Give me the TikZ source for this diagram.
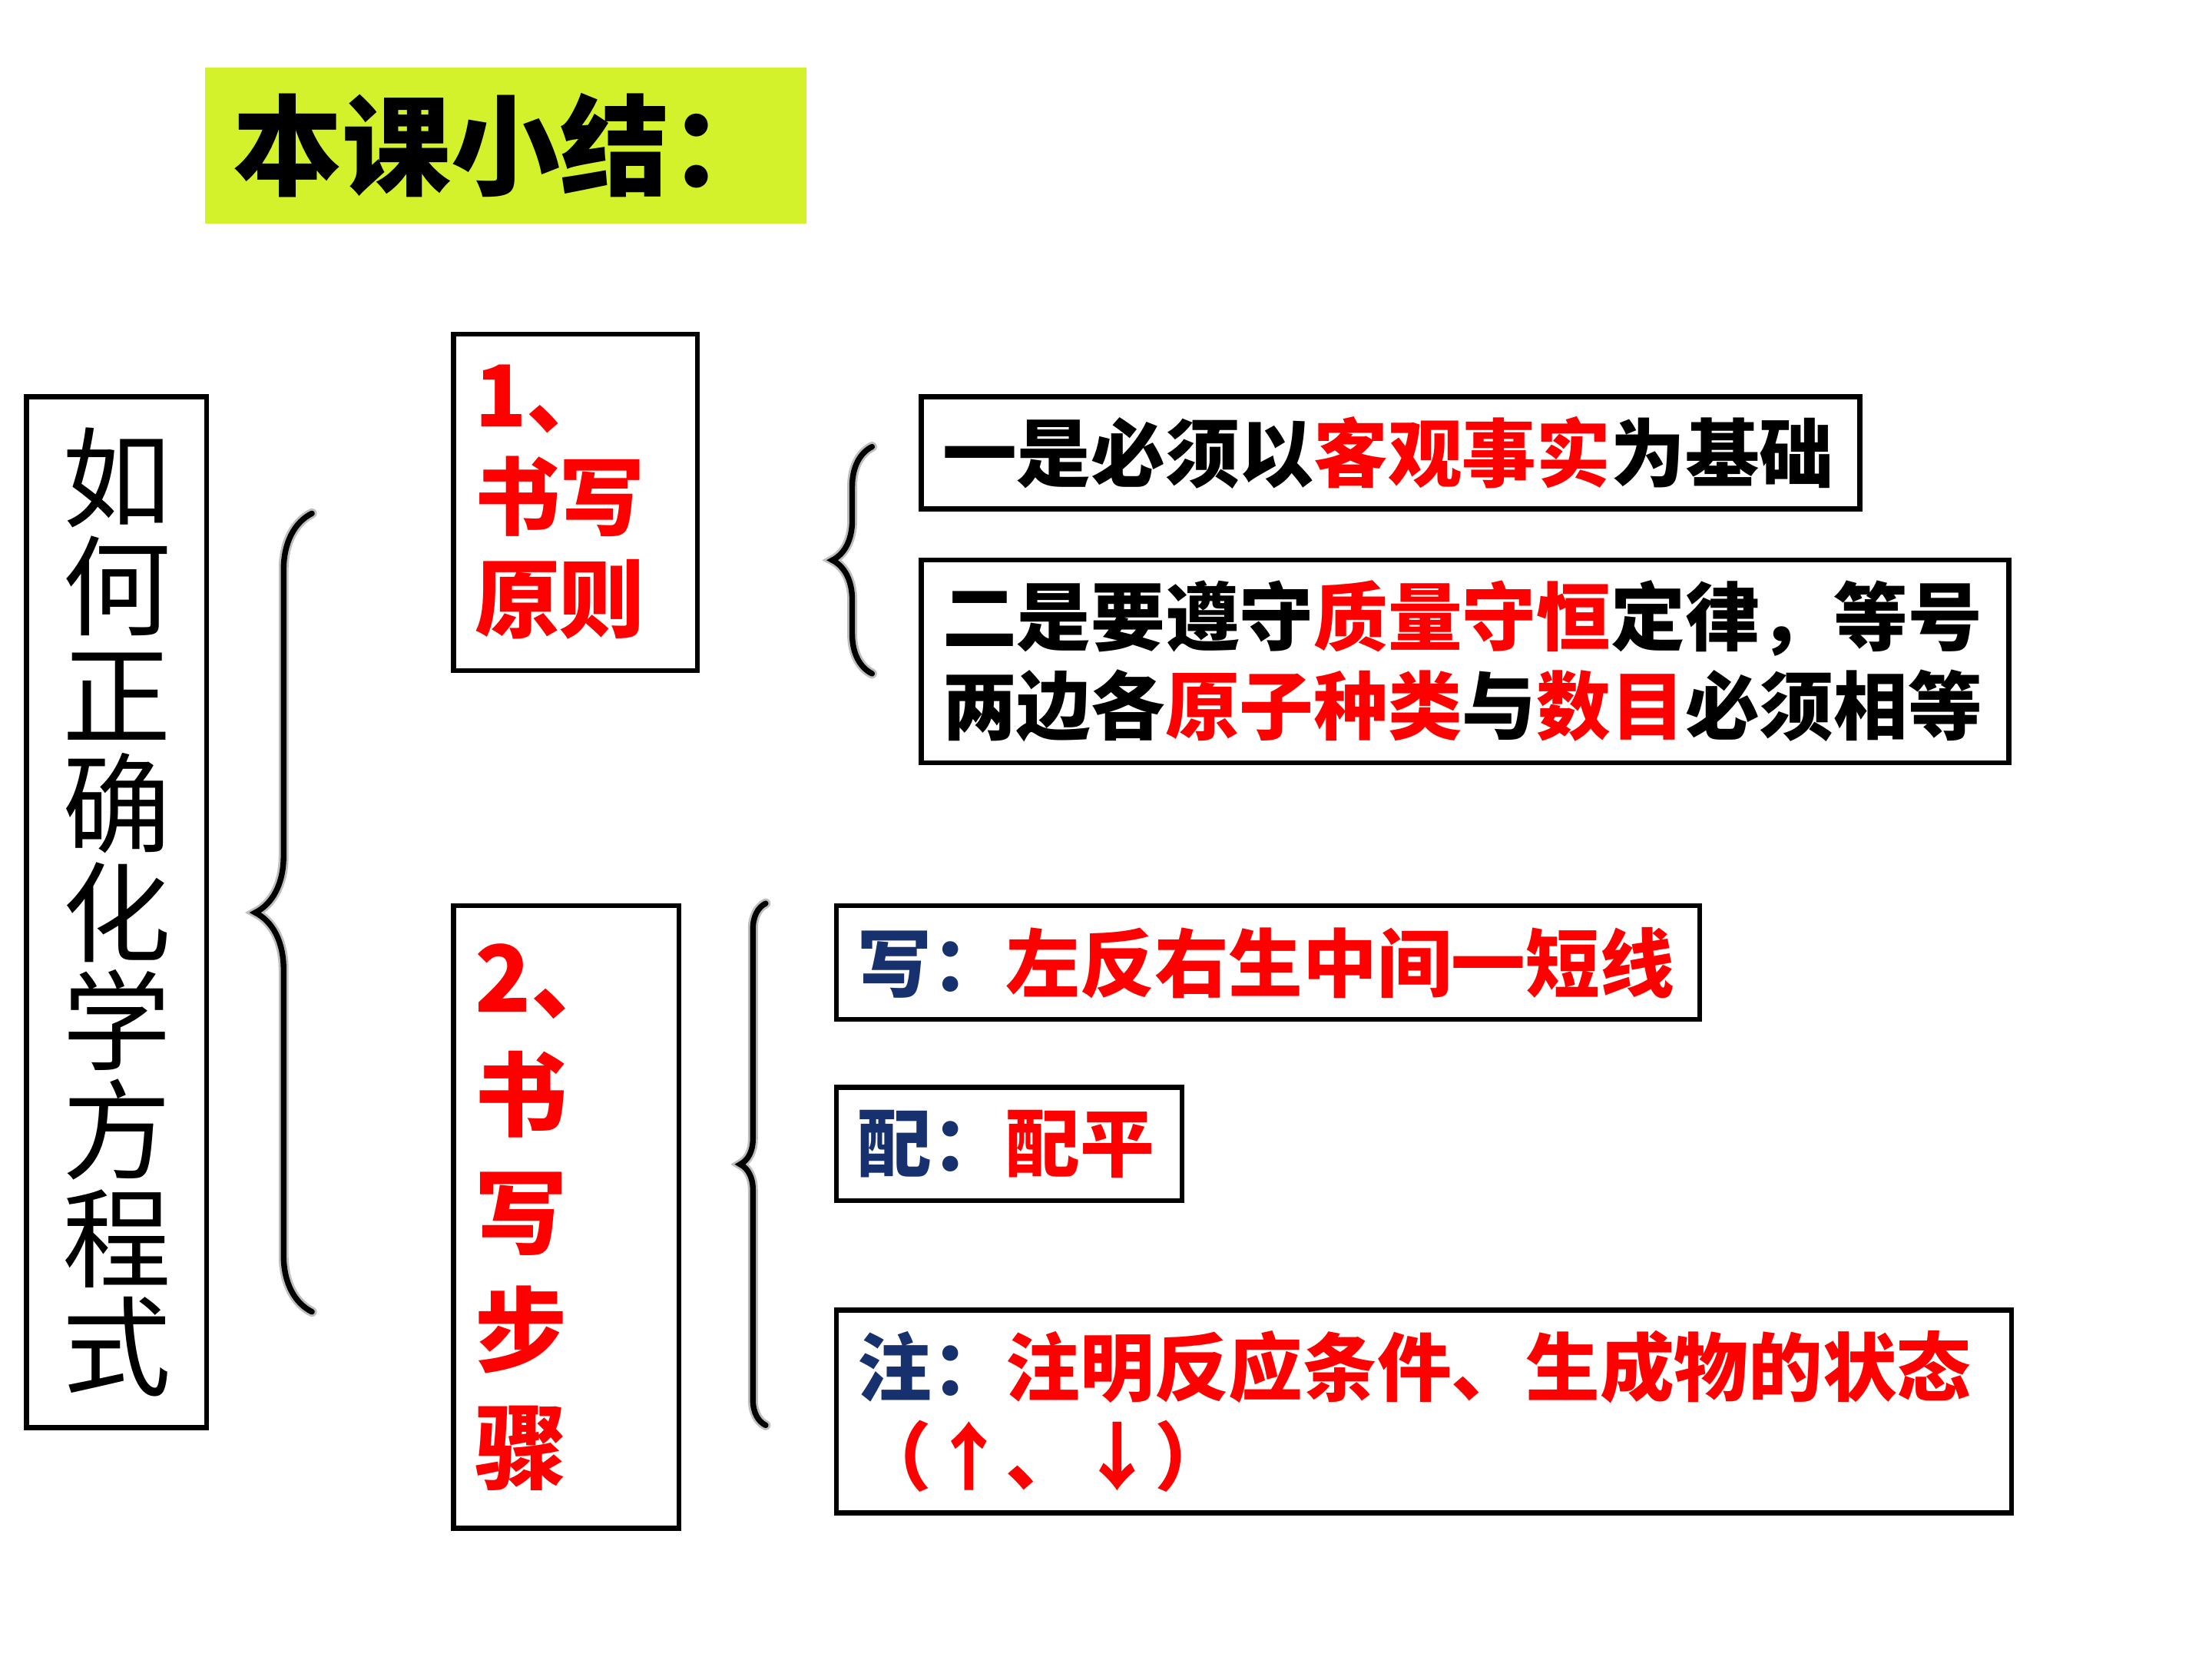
\documentclass[tikz,border=0pt]{standalone}
\usepackage{fontspec}
\setmainfont{Noto Sans CJK SC}
\usetikzlibrary{decorations.pathreplacing}
\definecolor{titlegreen}{RGB}{212,242,43}
\definecolor{stepblue}{RGB}{23,48,110}
\newcommand{\redtext}[1]{\textcolor{red}{#1}}
\tikzset{
    box/.style={draw, line width=0.35mm, inner xsep=1.5mm, inner ysep=0pt, align=left, anchor=north west},
    bodytext/.style={font=\fontsize{14.9}{17.9}\selectfont\bfseries},
    curly/.style={decorate, decoration={brace, amplitude=#1}, line width=0.4mm, line cap=round},
    curlyshadow/.style={curly=#1, gray!50, line width=0.7mm, xshift=0.4mm, yshift=-0.4mm}
}

\begin{document}
\begin{tikzpicture}[x=0.1mm, y=-0.1mm]
            \useasboundingbox (0,0) rectangle (1560,1170);
            % title
            \node[fill=titlegreen, anchor=north west, minimum width=42.4mm, minimum height=11mm,
                font=\fontsize{21.9}{22}\selectfont\bfseries] (title) at (144,47) {本课小结：};
            % left column
            \node[box, align=center, inner xsep=0pt, minimum width=12.7mm, minimum height=72.7mm,
                font=\fontsize{21.8}{21.8}\selectfont] (topic) at (17,278) {如\\何\\正\\确\\化\\学\\方\\程\\式};
            \node[box, text=red, text width=14.2mm, minimum height=23.7mm,
                font=\fontsize{17.1}{20.5}\selectfont\bfseries] (rule) at (318,234) {1、\\书写\\原则};
            \node[box, text=red, text width=12.9mm, minimum height=43.9mm,
                font=\fontsize{18.5}{23.6}\selectfont\bfseries] (steps) at (318,637) {2、\\书\\写\\步\\骤};
            % rules
            \node[box, bodytext, text width=63.2mm, minimum height=7.9mm] (ruleA) at (648,278)
                {一是必须以\redtext{客观事实}为基础};
            \node[box, bodytext, text width=73.7mm, minimum height=14.3mm] (ruleB) at (648,393)
                {二是要遵守\redtext{质量守恒}定律，等号\\两边各\redtext{原子种类}与\redtext{数目}必须相等};
            % steps
            \node[box, bodytext, text width=57.9mm, minimum height=8mm] (write) at (588,637)
                {\textcolor{stepblue}{写：}\redtext{左反右生中间一短线}};
            \node[box, bodytext, text width=21.4mm, minimum height=8mm] (balance) at (588,765)
                {\textcolor{stepblue}{配：}\redtext{配平}};
            \node[box, bodytext, text width=79.9mm, minimum height=14.3mm] (note) at (588,922)
                {\textcolor{stepblue}{注：}\redtext{注明反应条件、生成物的状态}\\\redtext{（↑、↓）}};
            % braces
            \coordinate (bigtop) at (220,362);
            \coordinate (bigbottom) at (220,925);
            \coordinate (ruletop) at (615,315);
            \coordinate (rulebottom) at (615,475);
            \coordinate (steptop) at (540,637);
            \coordinate (stepbottom) at (540,1005);
            \draw[curlyshadow=4mm] (bigbottom) -- (bigtop);
            \draw[curly=4mm] (bigbottom) -- (bigtop);
            \draw[curlyshadow=2.8mm] (rulebottom) -- (ruletop);
            \draw[curly=2.8mm] (rulebottom) -- (ruletop);
            \draw[curlyshadow=1.8mm] (stepbottom) -- (steptop);
            \draw[curly=1.8mm] (stepbottom) -- (steptop);
        \end{tikzpicture}
\end{document}
